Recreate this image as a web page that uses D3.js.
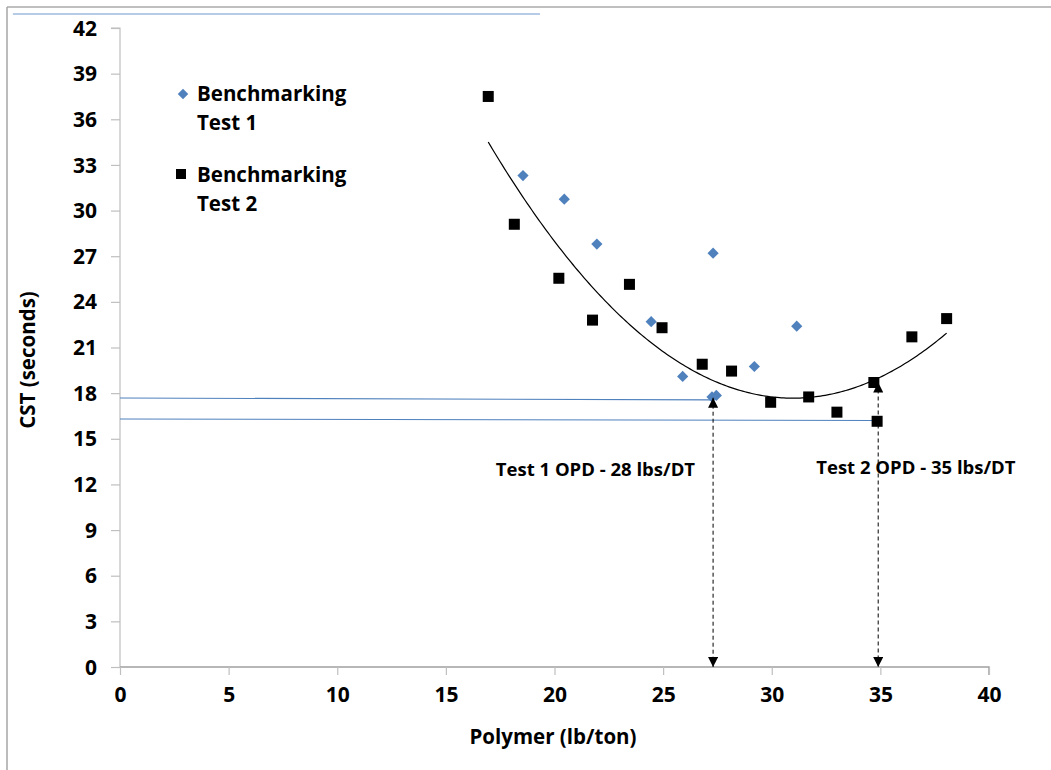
<!DOCTYPE html>
<html>
<head>
<meta charset="utf-8">
<script src="https://cdn.jsdelivr.net/npm/d3@7"></script>
<style>
  html, body { margin: 0; padding: 0; background: #fff; }
  svg { display: block; font-family: "Open Sans", Lato, sans-serif; }
</style>
</head>
<body>
<svg id="chart" width="1051" height="770"></svg>
<script>
// ---- Data ----
const test1X = [18.55, 20.45, 21.95, 27.3, 24.45, 31.15, 25.9, 29.2, 27.25, 27.45];
const test1Y = [32.3, 30.75, 27.8, 27.2, 22.7, 22.4, 19.1, 19.75, 17.75, 17.85];

const test2X = [16.95, 18.15, 20.2, 21.75, 23.45, 24.95, 26.8, 28.15, 29.95, 31.7, 33.0, 34.7, 34.85, 36.45, 38.05];
const test2Y = [37.5, 29.1, 25.55, 22.8, 25.15, 22.3, 19.9, 19.45, 17.4, 17.75, 16.75, 18.7, 16.15, 21.7, 22.9];

const xTicks = [0, 5, 10, 15, 20, 25, 30, 35, 40];
const yTicks = [0, 3, 6, 9, 12, 15, 18, 21, 24, 27, 30, 33, 36, 39, 42];

const legendLabels = [["Benchmarking", "Test 1"], ["Benchmarking", "Test 2"]];
const xTitle = "Polymer (lb/ton)";
const yTitle = "CST (seconds)";

// annotation data (in chart units)
const opdLabels = ["Test 1 OPD - 28 lbs/DT", "Test 2 OPD - 35 lbs/DT"];
const opdLabelX = [17.3, 32.05];
const opdLabelY = [12.55, 12.7];
const arrowX = [27.3, 34.9];
const arrowTop = [17.7, 18.7];
const guideStartY = [17.68, 16.3];
const guideEndX = [27.3, 34.85];
const guideEndY = [17.56, 16.2];
const strayLineX = [-4.93, 19.33];
const strayLineY = 42.92;

// ---- Layout ----
const FONT = "'Open Sans', Lato, sans-serif";
const svg = d3.select("#chart");
const mL = 120, mT = 28, mR = 989, mB = 667;
const x = d3.scaleLinear().domain([0, 40]).range([mL, mR]);
const y = d3.scaleLinear().domain([0, 42]).range([mB, mT]);

// frame
svg.append("line").attr("x1", 7).attr("x2", 1051).attr("y1", 7).attr("y2", 7)
  .attr("stroke", "#bfbfbf").attr("stroke-width", 2);
svg.append("line").attr("x1", 7).attr("x2", 7).attr("y1", 7).attr("y2", 770)
  .attr("stroke", "#a6a6a6").attr("stroke-width", 1.5);

// stray line at top
svg.append("line")
  .attr("x1", x(strayLineX[0])).attr("x2", x(strayLineX[1]))
  .attr("y1", y(strayLineY)).attr("y2", y(strayLineY))
  .attr("stroke", "#6f97cc").attr("stroke-width", 1.2);

// axes
const yAxis = d3.axisLeft(y).tickValues(yTicks).tickSize(9).tickPadding(14).tickFormat(d3.format("d"));
const gy = svg.append("g").attr("transform", `translate(${mL},0)`).call(yAxis);
gy.select(".domain").attr("stroke", "#bfbfbf").attr("stroke-width", 1.2).attr("d", `M-9,${mT}H0V${mB}`);
gy.selectAll(".tick line").attr("stroke", "#bfbfbf").attr("stroke-width", 1.2);
gy.selectAll(".tick text").attr("font-size", 21).attr("font-weight", 700).attr("fill", "#000")
  .attr("font-family", FONT).attr("dy", "0.34em");

const xAxis = d3.axisBottom(x).tickValues(xTicks).tickSize(8).tickPadding(12).tickFormat(d3.format("d"));
const gx = svg.append("g").attr("transform", `translate(0,${mB})`).call(xAxis);
gx.select(".domain").attr("stroke", "#a0a0a0").attr("stroke-width", 1.5).attr("d", `M${mL},0H${mR}V8`);
gx.selectAll(".tick line").attr("stroke", "#bfbfbf").attr("stroke-width", 1.2);
gx.selectAll(".tick text").attr("font-size", 21).attr("font-weight", 700).attr("fill", "#000")
  .attr("font-family", FONT);

// axis titles
svg.append("text").attr("x", 553).attr("y", 744)
  .attr("text-anchor", "middle").attr("font-size", 20.5).attr("font-weight", 700).text(xTitle);
svg.append("text").attr("transform", "translate(35,360) rotate(-90)")
  .attr("text-anchor", "middle").attr("font-size", 20.5).attr("font-weight", 700).text(yTitle);

// trendline: least-squares 2nd-order polynomial of Test 2
function polyfit2(xs, ys) {
  const n = xs.length, s = [0,0,0,0,0], t = [0,0,0];
  for (let i = 0; i < n; i++) {
    const xi = xs[i], yi = ys[i];
    let p = 1;
    for (let k = 0; k < 5; k++) { s[k] += p; if (k < 3) t[k] += p * yi; p *= xi; }
  }
  const A = [[s[0], s[1], s[2], t[0]], [s[1], s[2], s[3], t[1]], [s[2], s[3], s[4], t[2]]];
  for (let i = 0; i < 3; i++) {
    for (let j = i + 1; j < 3; j++) {
      const f = A[j][i] / A[i][i];
      for (let k = i; k < 4; k++) A[j][k] -= f * A[i][k];
    }
  }
  const c = [0,0,0];
  for (let i = 2; i >= 0; i--) {
    let v = A[i][3];
    for (let k = i + 1; k < 3; k++) v -= A[i][k] * c[k];
    c[i] = v / A[i][i];
  }
  return c;
}
const coef = polyfit2(test2X, test2Y);
const [xmin, xmax] = d3.extent(test2X);
const trendXs = d3.range(0, 201).map(i => xmin + (xmax - xmin) * i / 200);
const trend = d3.line().x(d => x(d)).y(d => y(coef[0] + coef[1] * d + coef[2] * d * d));
svg.append("path").datum(trendXs).attr("d", trend).attr("fill", "none")
  .attr("stroke", "#000").attr("stroke-width", 1.2);

// blue guide lines
guideStartY.forEach((v, i) => {
  svg.append("line").attr("x1", x(0)).attr("y1", y(v)).attr("x2", x(guideEndX[i])).attr("y2", y(guideEndY[i]))
    .attr("stroke", "#4f81bd").attr("stroke-width", 1.1);
});

// markers
const sym1 = d3.symbol().type(d3.symbolDiamond2).size(80);
svg.append("g").selectAll("path").data(test1X.map((d, i) => [d, test1Y[i]])).join("path")
  .attr("d", sym1).attr("transform", d => `translate(${x(d[0])},${y(d[1])})`).attr("fill", "#4f81bd");
svg.append("g").selectAll("rect").data(test2X.map((d, i) => [d, test2Y[i]])).join("rect")
  .attr("x", d => x(d[0]) - 5.5).attr("y", d => y(d[1]) - 5.5).attr("width", 11).attr("height", 11)
  .attr("fill", "#000");

// dashed double arrows
const defs = svg.append("defs");
defs.append("marker").attr("id", "ah").attr("viewBox", "0 0 10 10").attr("refX", 10).attr("refY", 5)
  .attr("markerWidth", 11).attr("markerHeight", 10).attr("markerUnits", "userSpaceOnUse").attr("orient", "auto-start-reverse")
  .append("path").attr("d", "M0,0L10,5L0,10Z").attr("fill", "#000");
arrowX.forEach((ax, i) => {
  svg.append("line").attr("x1", x(ax)).attr("x2", x(ax)).attr("y1", y(arrowTop[i])).attr("y2", y(0))
    .attr("stroke", "#000").attr("stroke-width", 1).attr("stroke-dasharray", "4,3")
    .attr("marker-start", "url(#ah)").attr("marker-end", "url(#ah)");
});

// OPD labels
opdLabels.forEach((t, i) => {
  svg.append("text").attr("x", x(opdLabelX[i])).attr("y", y(opdLabelY[i]))
    .attr("font-size", 18.5).attr("font-weight", 700).text(t);
});

// legend
const lg = svg.append("g");
lg.append("path").attr("d", d3.symbol().type(d3.symbolDiamond2).size(70)).attr("transform", "translate(183,94)").attr("fill", "#4f81bd");
lg.append("rect").attr("x", 176).attr("y", 169).attr("width", 10).attr("height", 10).attr("fill", "#000");
legendLabels.forEach((lines, i) => {
  lines.forEach((t, j) => {
    lg.append("text").attr("x", 197).attr("y", 101 + i * 81 + j * 29)
      .attr("font-size", 20.5).attr("font-weight", 700).text(t);
  });
});
</script>
</body>
</html>
